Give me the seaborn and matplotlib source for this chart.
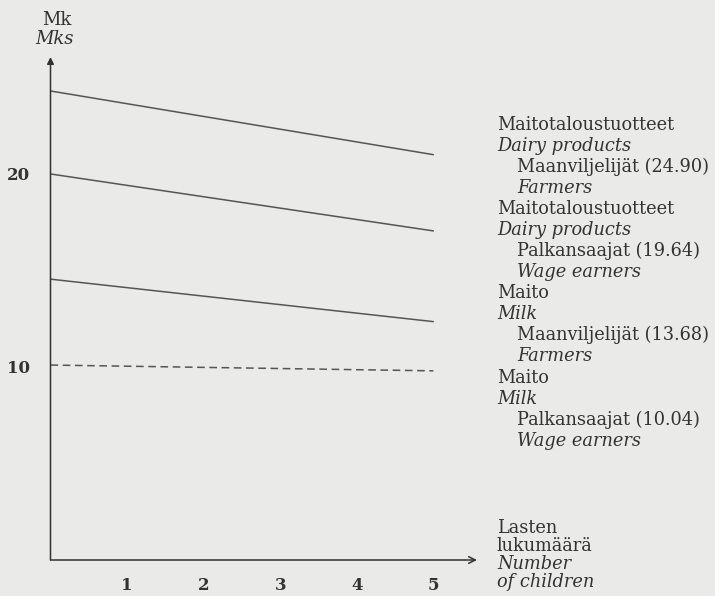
import matplotlib
matplotlib.use("Agg")
import matplotlib.pyplot as plt
import seaborn as sns
import pandas as pd

# ---- data ----
children = [0, 5]
dairy_farmers = [24.3, 21.0]
dairy_wage = [20.0, 17.05]
milk_farmers = [14.55, 12.35]
milk_wage = [10.1, 9.8]
series_names = ["dairy_farmers", "dairy_wage", "milk_farmers", "milk_wage"]
series_values = [dairy_farmers, dairy_wage, milk_farmers, milk_wage]
series_dashed = [False, False, False, True]

xticks = [1, 2, 3, 4, 5]
yticks = [10, 20]

label_groups = [
    ["Maitotaloustuotteet", "Dairy products", "Maanviljelijät (24.90)", "Farmers"],
    ["Maitotaloustuotteet", "Dairy products", "Palkansaajat (19.64)", "Wage earners"],
    ["Maito", "Milk", "Maanviljelijät (13.68)", "Farmers"],
    ["Maito", "Milk", "Palkansaajat (10.04)", "Wage earners"],
]
xlabel_lines = ["Lasten", "lukumäärä", "Number", "of children"]
ylabel_lines = ["Mk", "Mks"]

BG = "#eaeae8"
INK = "#333333"

sns.set_theme(style="white")
plt.rcParams["font.family"] = ["DejaVu Serif"]

W, H = 715, 596
fig = plt.figure(figsize=(W / 100, H / 100), dpi=100, facecolor=BG)
ax = fig.add_axes([50.5 / W, 36 / H, 426.5 / W, 503 / H])
ax.set_facecolor(BG)

rows = []
for name, vals in zip(series_names, series_values):
    for x, y in zip(children, vals):
        rows.append({"series": name, "children": x, "value": y})
df = pd.DataFrame(rows)

for name, dashed in zip(series_names, series_dashed):
    sub = df[df["series"] == name]
    sns.lineplot(data=sub, x="children", y="value", ax=ax, color="#555555",
                 linewidth=1.1, linestyle=(0, (5, 3)) if dashed else "-",
                 legend=False)

ax.set_xlim(0, 5.57)
ax.set_ylim(0, 26.06)
ax.set_xticks(xticks)
ax.set_xticklabels([str(t) for t in xticks], fontsize=12, color=INK, fontweight="bold")
ax.set_yticks(yticks)
ax.set_yticklabels([str(t) for t in yticks], fontsize=12, color=INK, fontweight="bold")
ax.tick_params(axis="x", direction="out", length=4, width=1, color=INK, pad=8)
ax.tick_params(axis="y", direction="out", length=5, width=1, color=INK, pad=10)
ax.set_xlabel("")
ax.set_ylabel("")
for s in ["top", "right", "left", "bottom"]:
    ax.spines[s].set_visible(False)

# axes with arrows
ax.annotate("", xy=(0, 1), xytext=(0, 0), xycoords="axes fraction",
            arrowprops=dict(arrowstyle="-|>", color=INK, lw=1.1,
                            mutation_scale=10, shrinkA=0, shrinkB=0))
ax.annotate("", xy=(1, 0), xytext=(0, 0), xycoords="axes fraction",
            arrowprops=dict(arrowstyle="->", color=INK, lw=1.1,
                            mutation_scale=12, shrinkA=0, shrinkB=0))

def ftext(px, py, s, **kw):
    fig.text(px / W, 1 - py / H, s, color=INK, va="center", **kw)

# y-axis unit label
ftext(57, 20, ylabel_lines[0], fontsize=13, ha="center")
ftext(55, 39, ylabel_lines[1], fontsize=13, ha="center", style="italic")

# right-side series labels
group_tops = [125, 209, 293, 378]
for top, lines in zip(group_tops, label_groups):
    for i, line in enumerate(lines):
        indent = 20 if i >= 2 else 0
        ftext(497 + indent, top + 21 * i, line, fontsize=12.8, ha="left",
              style="italic" if i % 2 == 1 else "normal")

# x-axis label
for i, line in enumerate(xlabel_lines):
    ftext(497, 528 + 18 * i, line, fontsize=12.8, ha="left",
          style="italic" if i >= 2 else "normal")

fig.savefig("out.png", dpi=100, facecolor=BG)
